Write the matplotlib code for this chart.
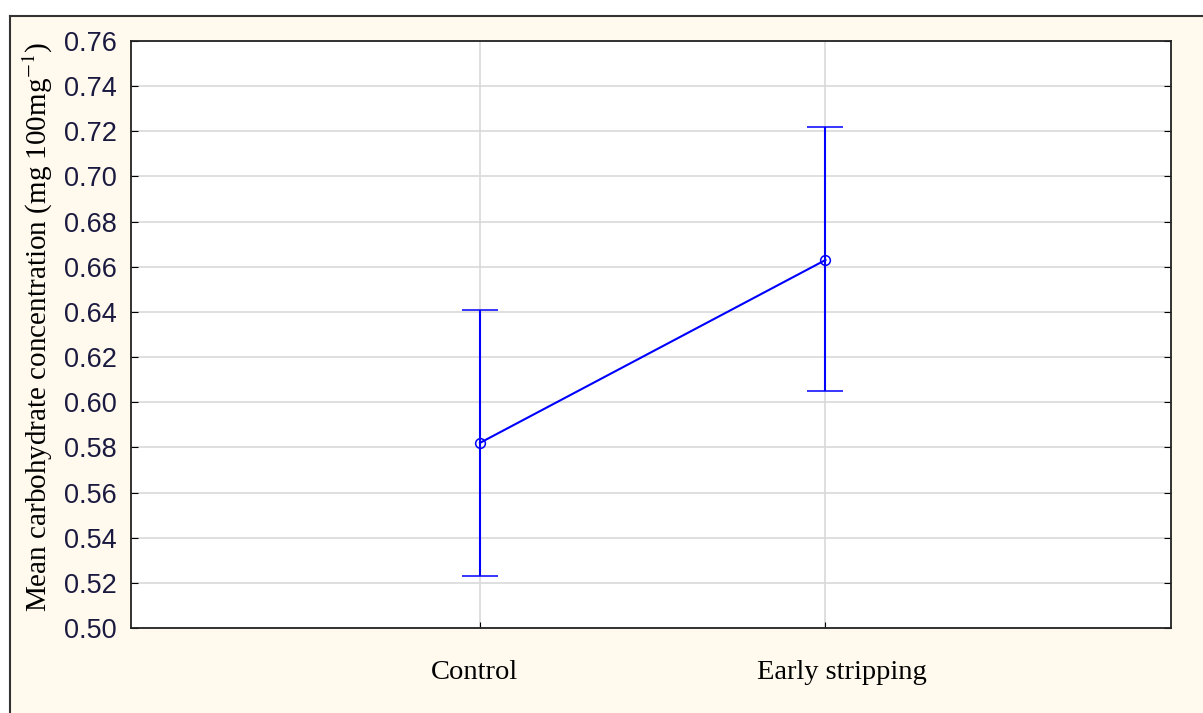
import matplotlib
matplotlib.use("Agg")
import matplotlib.pyplot as plt
import matplotlib.transforms as mtransforms
from matplotlib.lines import Line2D
from matplotlib.patches import Rectangle

categories = ["Control", "Early stripping"]
means = [0.582, 0.663]
upper = [0.641, 0.722]
lower = [0.523, 0.605]
yticks = [0.50, 0.52, 0.54, 0.56, 0.58, 0.60, 0.62, 0.64, 0.66, 0.68, 0.70, 0.72, 0.74, 0.76]

W, H = 1203, 713
fig = plt.figure(figsize=(W / 100, H / 100), dpi=100)
fig.patch.set_facecolor("white")
cream = "#FFF9EE"
fig.add_artist(Rectangle((10 / W, 0), 1 - 10 / W, 1 - 16 / H, transform=fig.transFigure,
                         facecolor=cream, edgecolor="none", zorder=-5))
fig.add_artist(Line2D([10 / W, 1], [1 - 16 / H, 1 - 16 / H], transform=fig.transFigure,
                      color="#333333", lw=1.5, zorder=-4))
fig.add_artist(Line2D([10 / W, 10 / W], [0, 1 - 16 / H], transform=fig.transFigure,
                      color="#333333", lw=1.5, zorder=-4))

ax = fig.add_axes([131 / W, 1 - 628 / H, (1171 - 131) / W, (628 - 41) / H])
ax.set_zorder(2)
ax.set_facecolor("white")
x = [1, 2]
yerr = [[m - l for m, l in zip(means, lower)], [u - m for m, u in zip(means, upper)]]
ax.errorbar(x, means, yerr=yerr, color="#0000FF", lw=1.5, capsize=13, capthick=1.5,
            marker="o", markersize=7, markerfacecolor="none", markeredgecolor="#0000FF",
            markeredgewidth=1.1, zorder=3)
ax.set_xlim(-0.01, 3.0)
ax.set_ylim(0.50, 0.76)
ax.set_yticks(yticks)
ax.set_yticklabels([f"{v:.2f}" for v in yticks], fontsize=19.5, family="Liberation Sans", color="#1a1a40")
ax.set_xticks(x)
ax.set_xticklabels(categories, fontsize=20.5, family="Liberation Serif", color="black")
ax.tick_params(axis="x", direction="in", length=4, pad=23, top=False)
ax.tick_params(axis="y", direction="in", length=5, right=True, pad=10)
ax.grid(True, color="#D9D9D9", lw=1.2)
ax.set_axisbelow(True)
for s in ax.spines.values():
    s.set_color("#222222")
    s.set_linewidth(1.3)
# small horizontal offsets of the category labels as in the original
for lab, dx in zip(ax.get_xticklabels(), [-6, 16]):
    lab.set_transform(lab.get_transform() + mtransforms.ScaledTranslation(dx / 100, 0, fig.dpi_scale_trans))
fig.text(38 / W, 1 - 327 / H, "Mean carbohydrate concentration (mg 100mg$^{-1}$)", rotation=90,
         ha="center", va="center", fontsize=21, family="Liberation Serif",
         math_fontfamily="stix")
fig.savefig("out.png", dpi=100, facecolor=fig.get_facecolor())
